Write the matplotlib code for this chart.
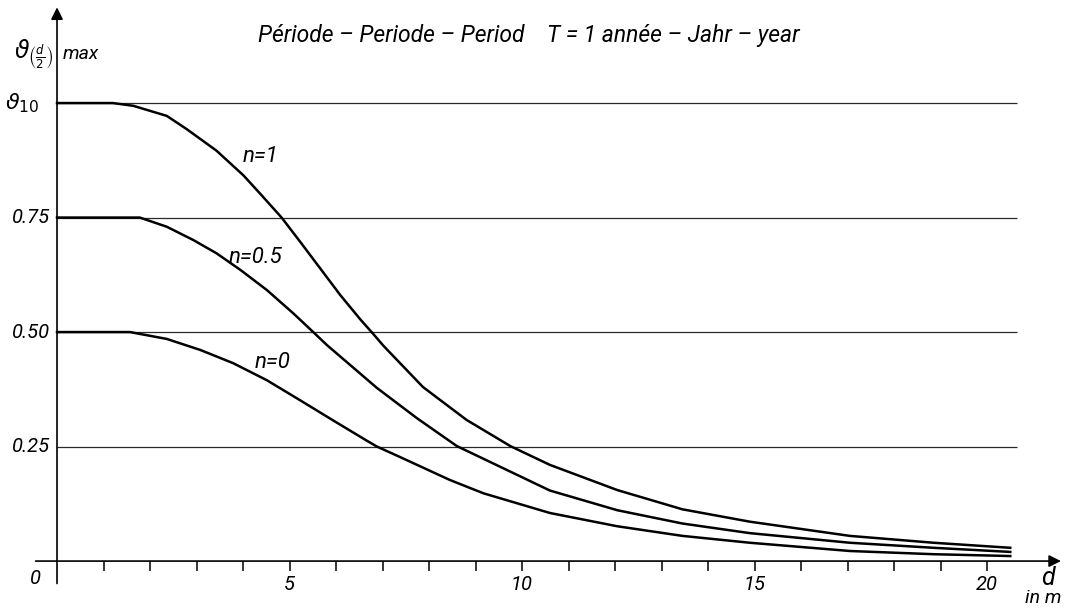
import matplotlib
matplotlib.use("Agg")
import matplotlib.pyplot as plt
from matplotlib.ticker import FixedLocator

plt.rcParams['font.family'] = ['Roboto', 'DejaVu Sans']
plt.rcParams['mathtext.fontset'] = 'dejavusans'

# values (d in m, theta relative to theta_10)
d_n1 = [0, 1.2, 1.64, 2.36, 2.79, 3.43, 4.01, 4.37, 4.83, 5.23, 5.66, 6.09, 6.52, 6.80, 7.02,
        7.87, 8.81, 9.75, 10.6, 12.05, 13.45, 14.9, 17.05, 18.85, 20.5]
th_n1 = [1.0, 1.0, 0.994, 0.972, 0.943, 0.896, 0.842, 0.802, 0.75, 0.697, 0.639, 0.581, 0.528, 0.496, 0.470,
         0.380, 0.308, 0.251, 0.210, 0.155, 0.113, 0.086, 0.055, 0.040, 0.029]

d_n05 = [0, 1.78, 2.36, 2.93, 3.43, 3.94, 4.51, 5.08, 5.51, 5.80, 6.88, 7.74, 8.6,
         10.6, 12.05, 13.45, 14.9, 17.05, 18.85, 20.5]
th_n05 = [0.75, 0.75, 0.730, 0.701, 0.672, 0.636, 0.592, 0.541, 0.5, 0.472, 0.378, 0.312, 0.251,
          0.154, 0.111, 0.082, 0.061, 0.040, 0.029, 0.020]

d_n0 = [0, 1.57, 2.36, 3.08, 3.79, 4.51, 5.23, 5.94, 6.66, 6.88, 7.38, 8.45, 9.17,
        10.6, 12.05, 13.45, 14.9, 17.05, 18.85, 20.5]
th_n0 = [0.5, 0.5, 0.485, 0.461, 0.432, 0.395, 0.351, 0.307, 0.263, 0.25, 0.227, 0.177, 0.148,
         0.105, 0.076, 0.055, 0.040, 0.022, 0.015, 0.011]

levels = [0.25, 0.5, 0.75, 1.0]
level_labels = ["0.25", "0.50", "0.75"]
x_major = [5, 10, 15, 20]
x_minor = [1, 2, 3, 4, 6, 7, 8, 9, 11, 12, 13, 14, 16, 17, 18, 19]
curve_labels = ["n=1", "n=0.5", "n=0"]
label_pos = [(4.38, 0.884), (4.27, 0.662), (4.63, 0.434)]

fig = plt.figure(figsize=(10.65, 6.11), dpi=100)
ax = fig.add_axes([0, 0, 1, 1])
ax.set_xlim(-1.226, 21.677)
ax.set_ylim(-0.109, 1.225)
for s in ax.spines.values():
    s.set_visible(False)

# horizontal reference lines
ax.hlines(levels, 0, 20.65, color="#2a2a2a", lw=0.9)

# curves
for d, th in [(d_n1, th_n1), (d_n05, th_n05), (d_n0, th_n0)]:
    ax.plot(d, th, color="black", lw=1.8, solid_joinstyle="round")

for txt, (x, y) in zip(curve_labels, label_pos):
    ax.text(x, y, txt, fontsize=16, style="italic", ha="center", va="center")

# axes with arrows
ax.annotate("", xy=(21.65, 0), xytext=(-0.52, 0),
            arrowprops=dict(arrowstyle="-|>", color="black", lw=1.2, mutation_scale=18))
ax.annotate("", xy=(0, 1.215), xytext=(0, -0.055),
            arrowprops=dict(arrowstyle="-|>", color="black", lw=1.2, mutation_scale=18))

# x ticks hanging below the axis
ax.spines['bottom'].set_position(('data', 0))
ax.xaxis.set_major_locator(FixedLocator(x_major))
ax.xaxis.set_minor_locator(FixedLocator(x_minor))
ax.tick_params(axis="x", which="both", direction="out", length=7, width=1.1,
               color="black", pad=3, labelsize=14.5)
ax.set_xticklabels([str(v) for v in x_major], style="italic")

ax.set_yticks([])
for y, txt in zip(levels[:3], level_labels):
    ax.text(-0.15, y, txt, fontsize=14.5, style="italic", ha="right", va="center")
ax.text(-0.37, 1.0, r"$\vartheta_{10}$", fontsize=16, ha="right", va="center")

ax.text(-0.47, -0.037, "0", fontsize=14.5, style="italic", ha="center", va="center")
ax.text(21.3, -0.036, "d", fontsize=18, style="italic", ha="center", va="center")
ax.text(21.2, -0.081, "in m", fontsize=14, style="italic", ha="center", va="center")

# vertical axis title
ax.text(-0.09, 1.107, r"$\vartheta_{\left(\frac{d}{2}\right)}$", fontsize=17,
        ha="right", va="center")
ax.text(0.12, 1.107, "max", fontsize=14, style="italic", ha="left", va="center")

ax.text(10.15, 1.148, "Période – Periode – Period    T = 1 année – Jahr – year",
        fontsize=16.5, style="italic", ha="center", va="center")

fig.savefig("out.png", dpi=100)
